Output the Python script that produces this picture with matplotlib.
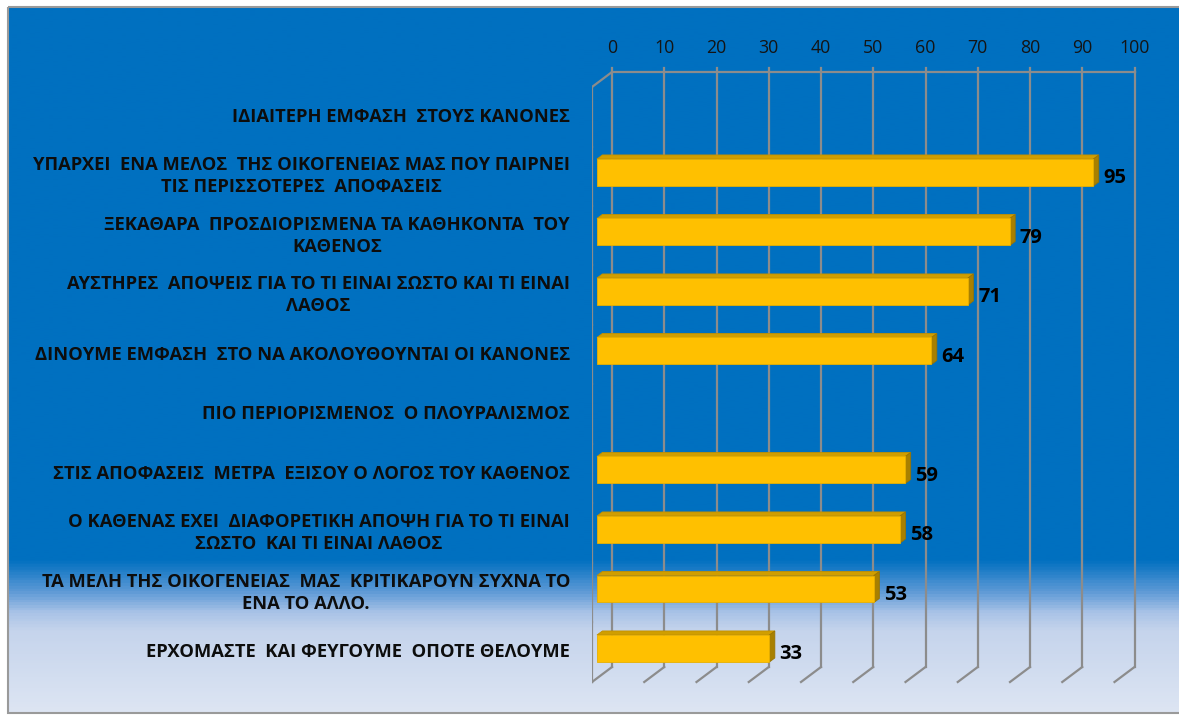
import numpy as np
import matplotlib.pyplot as plt
from matplotlib.patches import Polygon, Rectangle
from matplotlib.colors import LinearSegmentedColormap

# Δεδομένα (από πάνω προς τα κάτω)
kathgories = [
    "ΙΔΙΑΙΤΕΡΗ ΕΜΦΑΣΗ  ΣΤΟΥΣ ΚΑΝΟΝΕΣ",
    "ΥΠΑΡΧΕΙ  ΕΝΑ ΜΕΛΟΣ  ΤΗΣ ΟΙΚΟΓΕΝΕΙΑΣ ΜΑΣ ΠΟΥ ΠΑΙΡΝΕΙ\nΤΙΣ ΠΕΡΙΣΣΟΤΕΡΕΣ  ΑΠΟΦΑΣΕΙΣ",
    "ΞΕΚΑΘΑΡΑ  ΠΡΟΣΔΙΟΡΙΣΜΕΝΑ ΤΑ ΚΑΘΗΚΟΝΤΑ  ΤΟΥ\nΚΑΘΕΝΟΣ",
    "ΑΥΣΤΗΡΕΣ  ΑΠΟΨΕΙΣ ΓΙΑ ΤΟ ΤΙ ΕΙΝΑΙ ΣΩΣΤΟ ΚΑΙ ΤΙ ΕΙΝΑΙ\nΛΑΘΟΣ",
    "ΔΙΝΟΥΜΕ ΕΜΦΑΣΗ  ΣΤΟ ΝΑ ΑΚΟΛΟΥΘΟΥΝΤΑΙ ΟΙ ΚΑΝΟΝΕΣ",
    "ΠΙΟ ΠΕΡΙΟΡΙΣΜΕΝΟΣ  Ο ΠΛΟΥΡΑΛΙΣΜΟΣ",
    "ΣΤΙΣ ΑΠΟΦΑΣΕΙΣ  ΜΕΤΡΑ  ΕΞΙΣΟΥ Ο ΛΟΓΟΣ ΤΟΥ ΚΑΘΕΝΟΣ",
    "Ο ΚΑΘΕΝΑΣ ΕΧΕΙ  ΔΙΑΦΟΡΕΤΙΚΗ ΑΠΟΨΗ ΓΙΑ ΤΟ ΤΙ ΕΙΝΑΙ\nΣΩΣΤΟ  ΚΑΙ ΤΙ ΕΙΝΑΙ ΛΑΘΟΣ",
    "ΤΑ ΜΕΛΗ ΤΗΣ ΟΙΚΟΓΕΝΕΙΑΣ  ΜΑΣ  ΚΡΙΤΙΚΑΡΟΥΝ ΣΥΧΝΑ ΤΟ\nΕΝΑ ΤΟ ΑΛΛΟ.",
    "ΕΡΧΟΜΑΣΤΕ  ΚΑΙ ΦΕΥΓΟΥΜΕ  ΟΠΟΤΕ ΘΕΛΟΥΜΕ",
]
times = [None, 95, 79, 71, 64, None, 59, 58, 53, 33]
ticks = [0, 10, 20, 30, 40, 50, 60, 70, 80, 90, 100]

W, H = 1179, 715
fig = plt.figure(figsize=(W / 100, H / 100), dpi=100)

# Φόντο με διαβάθμιση
bg = fig.add_axes([0, 0, 1, 1])
bg.set_xlim(0, W)
bg.set_ylim(H, 0)
bg.axis("off")
cmap = LinearSegmentedColormap.from_list(
    "fondo",
    [(0.0, "#0070c0"), (0.785, "#0070c0"), (0.805, "#2a82ca"), (0.83, "#5e9ad6"),
     (0.86, "#a9c3e7"), (0.885, "#c5d4ec"), (1.0, "#dde5f3")],
)
grad = np.linspace(0, 1, 700).reshape(-1, 1)
bg.imshow(grad, cmap=cmap, aspect="auto", extent=(8, W, 713, 7), zorder=0,
          interpolation="bilinear")
bg.add_patch(Rectangle((8, 7), W, 706, fill=False, ec="#9a9a9a", lw=1.5, zorder=1))

# Άξονας σε μονάδες τιμής / κατηγορίας
sx = 5.225   # px ανά μονάδα
sy = 59.5    # px ανά κατηγορία
x0_px, y0_px = 592, 87
left_px, right_px, top_px, bot_px = 592, 1150, 40, 700
ax = fig.add_axes([left_px / W, 1 - bot_px / H, (right_px - left_px) / W, (bot_px - top_px) / H])
ax.set_xlim((left_px - x0_px) / sx, (right_px - x0_px) / sx)
ax.set_ylim((bot_px - y0_px) / sy, (top_px - y0_px) / sy)
ax.axis("off")

n = len(kathgories)
ddx = 20 / sx     # βάθος προς τα δεξιά
ddy = -15 / sy    # βάθος προς τα πάνω
grid_c = "#8c8c8c"
lw = 1.6

# Πίσω τοίχος: κάθετες γραμμές πλέγματος
for t in ticks:
    ax.plot([t + ddx, t + ddx], [ddy, n + ddy], color=grid_c, lw=lw, zorder=2)
    ax.plot([t + ddx, t], [n + ddy, n], color=grid_c, lw=lw, zorder=2)
    ax.plot([t + ddx, t + ddx], [ddy, ddy - 0.06], color=grid_c, lw=lw, zorder=2)
    ax.text(t + ddx, ddy - 0.4, str(t), ha="center", va="center",
            fontsize=12.8, color="#141414", family="Open Sans", clip_on=False)
ax.plot([ticks[0] + ddx, ticks[-1] + ddx], [ddy, ddy], color=grid_c, lw=lw, zorder=2)

# Αριστερός τοίχος
ax.plot([0, 0], [0, n], color=grid_c, lw=lw, zorder=2)
ax.plot([0, ddx], [0, ddy], color=grid_c, lw=lw, zorder=2)
for i in range(n + 1):
    ax.plot([0, -5 / sx], [i, i], color=grid_c, lw=lw, zorder=2)

# Ράβδοι 3Δ
f_front, f_back = 0.25, 0.52
bh = 27 / sy
for i, v in enumerate(times):
    yc = i + 0.5
    if v is not None:
        ox, oy = f_front * ddx, f_front * ddy
        bx, by = (f_back - f_front) * ddx, (f_back - f_front) * ddy
        x1, x2 = ox, ox + v
        yt, yb = yc + oy - bh / 2, yc + oy + bh / 2
        top = Polygon([(x1, yt), (x2, yt), (x2 + bx, yt + by), (x1 + bx, yt + by)],
                      closed=True, fc="#d09e00", ec="#c09000", lw=0.6, zorder=4)
        side = Polygon([(x2, yt), (x2 + bx, yt + by), (x2 + bx, yb + by), (x2, yb)],
                       closed=True, fc="#a88000", ec="#9a7400", lw=0.6, zorder=4)
        front = Polygon([(x1, yt), (x2, yt), (x2, yb), (x1, yb)],
                        closed=True, fc="#ffc000", ec="#e8b000", lw=0.6, zorder=5)
        for p in (top, side, front):
            ax.add_patch(p)
        ax.text(x2 + bx + 0.9, yc + 0.03, str(v), ha="left", va="center",
                fontsize=14.5, fontweight="bold", color="black",
                family="Open Sans", zorder=6)
    ax.text(-22 / sx, yc, kathgories[i], ha="right", va="center", multialignment="center",
            fontsize=13.2, fontweight="bold", color="#0d0d0d", linespacing=1.3,
            family="Open Sans", clip_on=False)

fig.savefig("out.png", dpi=100)
